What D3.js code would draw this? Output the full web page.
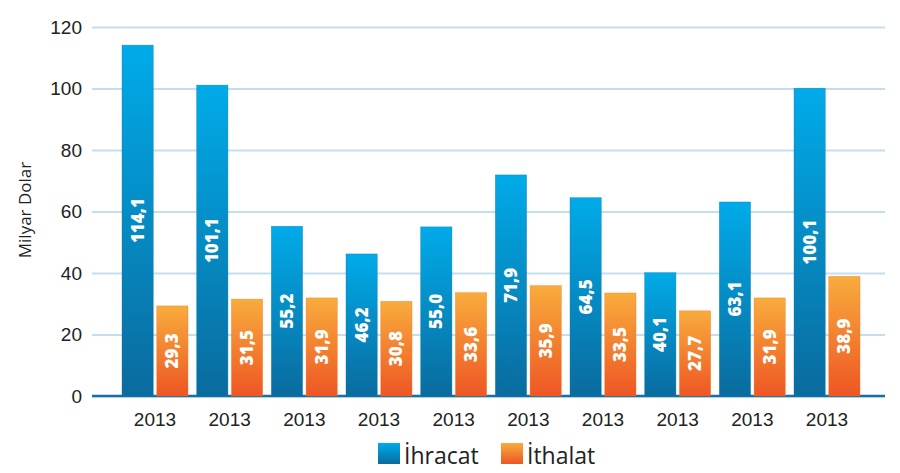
<!DOCTYPE html>
<html>
<head>
<meta charset="utf-8">
<script src="https://cdn.jsdelivr.net/npm/d3@7"></script>
<style>
  html, body { margin: 0; padding: 0; background: #fff; }
  svg { display: block; font-family: "Open Sans", "Noto Sans", sans-serif; }
</style>
</head>
<body>
<svg id="chart" width="900" height="473"></svg>
<script>
// ---- data ----
const categories = ["2013","2013","2013","2013","2013","2013","2013","2013","2013","2013"];
const ihracat = [114.1, 101.1, 55.2, 46.2, 55.0, 71.9, 64.5, 40.1, 63.1, 100.1];
const ithalat = [29.3, 31.5, 31.9, 30.8, 33.6, 35.9, 33.5, 27.7, 31.9, 38.9];
const seriesNames = ["İhracat", "İthalat"];
const yTicks = [0, 20, 40, 60, 80, 100, 120];
const yTitle = "Milyar Dolar";

// ---- drawing ----
const svg = d3.select("#chart");
const defs = svg.append("defs");
function grad(id, top, bottom) {
  const g = defs.append("linearGradient").attr("id", id)
    .attr("x1", 0).attr("y1", 0).attr("x2", 0).attr("y2", 1);
  g.append("stop").attr("offset", "0%").attr("stop-color", top);
  g.append("stop").attr("offset", "100%").attr("stop-color", bottom);
}
grad("gBlue", "#00abe9", "#0a6b9e");
grad("gOrange", "#f8ac3c", "#ee5624");
const fills = ["url(#gBlue)", "url(#gOrange)"];
const strokes = ["#0a78b0", "#f07a2a"];

const gridLeft = 92, gridRight = 885;
const y = d3.scaleLinear().domain([0, 120]).range([396, 27]);
const idx = categories.map((d, i) => i);
const x0 = d3.scaleBand().domain(idx).range([122, 860]).paddingInner(0.116).paddingOuter(0);
const x1 = d3.scaleBand().domain([0, 1]).range([0, x0.bandwidth()]).paddingInner(0.1);

// y axis with gridlines
const yAxis = d3.axisLeft(y).tickValues(yTicks).tickSize(-(gridRight - gridLeft)).tickPadding(10);
const gy = svg.append("g").attr("transform", `translate(${gridLeft},0)`).call(yAxis);
gy.select(".domain").remove();
gy.selectAll(".tick line").attr("stroke", "#c3dfee").attr("stroke-width", 2);
gy.selectAll(".tick text").attr("fill", "#222").style("font-size", "19px").style("font-weight", 400);

// baseline
svg.append("line").attr("x1", gridLeft).attr("x2", gridRight)
  .attr("y1", y(0)).attr("y2", y(0))
  .attr("stroke", "#1b6da6").attr("stroke-width", 2.5);

// x axis labels
const xAxis = d3.axisBottom(x0).tickSize(0).tickPadding(17).tickFormat(i => categories[i]);
const gx = svg.append("g").attr("transform", `translate(0,${y(0)})`).call(xAxis);
gx.select(".domain").remove();
gx.selectAll(".tick text").attr("fill", "#222").style("font-size", "19px");

// bars
const rows = idx.map(i => [ihracat[i], ithalat[i]]);
const fmt = v => d3.format(".1f")(v).replace(".", ",");
const groups = svg.append("g").selectAll("g").data(rows).join("g")
  .attr("transform", (d, i) => `translate(${x0(i)},0)`);
groups.selectAll("rect").data(d => d.map((v, s) => ({ v, s }))).join("rect")
  .attr("x", d => x1(d.s))
  .attr("y", d => y(d.v))
  .attr("width", x1.bandwidth())
  .attr("height", d => y(0) - y(d.v))
  .attr("fill", d => fills[d.s])
  .attr("stroke", d => strokes[d.s]).attr("stroke-width", 0.6).attr("stroke-opacity", 0.6);
groups.selectAll("text").data(d => d.map((v, s) => ({ v, s }))).join("text")
  .attr("transform", d => `translate(${x1(d.s) + x1.bandwidth() / 2},${(y(d.v) + y(0)) / 2}) rotate(-90)`)
  .attr("text-anchor", "middle").attr("dy", "0.36em")
  .attr("fill", "#fff").style("font-size", "17px").style("font-weight", 800)
  .text(d => fmt(d.v));

// y title
svg.append("text").attr("transform", "translate(31,210) rotate(-90)")
  .attr("text-anchor", "middle").attr("fill", "#222").style("font-size", "17px")
  .text(yTitle);

// legend
const legendX = [378, 501];
const lg = svg.append("g").selectAll("g").data(seriesNames).join("g")
  .attr("transform", (d, i) => `translate(${legendX[i]},443)`);
lg.append("rect").attr("width", 22).attr("height", 21).attr("fill", (d, i) => fills[i]);
lg.append("text").attr("x", 26).attr("y", 21).attr("fill", "#222")
  .style("font-size", "23px").style("font-weight", 400).text(d => d);
</script>
</body>
</html>
